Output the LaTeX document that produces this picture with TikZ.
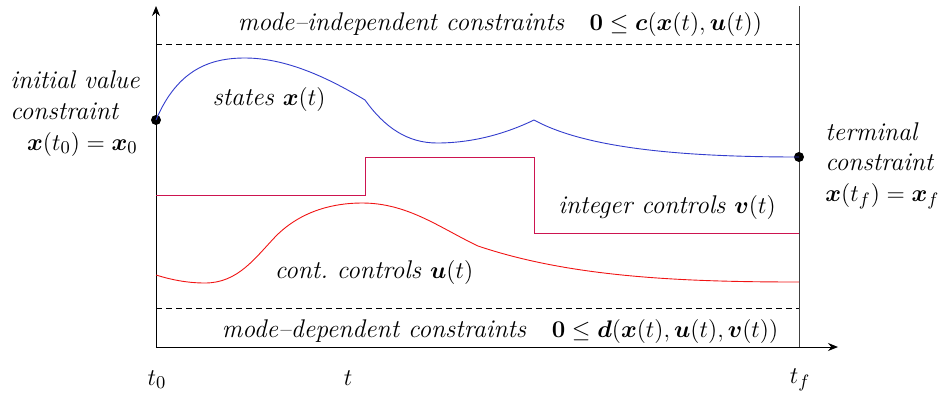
\documentclass[tikz,border=0pt]{standalone}
\usepackage{amsmath}
\usepackage{bm}
\usetikzlibrary{arrows.meta}
\definecolor{stateblue}{RGB}{50,60,205}
\definecolor{intred}{RGB}{205,20,80}
\definecolor{contred}{RGB}{240,20,20}
\tikzset{
  lbl/.style={inner sep=0pt, anchor=base west, font=\fontsize{12.8}{14}\selectfont\itshape},
  dotnode/.style={circle, fill=black, inner sep=0pt, minimum size=5pt},
  bound/.style={dashed, dash pattern=on 3pt off 2pt, line width=0.5pt},
  axisline/.style={line width=0.5pt, -{Stealth[length=5pt,width=4pt]}},
  curve/.style={line width=0.45pt},
}
\begin{document}
\begin{tikzpicture}[x=0.5pt, y=-0.5pt]
\useasboundingbox (0,0) rectangle (942,392);
% axes
\coordinate (O) at (156,347);
\coordinate (Ytop) at (156,6);
\coordinate (Xend) at (838,347);
\coordinate (Rtop) at (799,6);
\coordinate (Rbot) at (799,347);
\draw[axisline] (O) -- (Ytop);
\draw[axisline] (O) -- (Xend);
\draw[line width=0.5pt, black!75] (Rbot) -- (Rtop);
% dashed bounds
\coordinate (TL) at (156,44);
\coordinate (TR) at (799,44);
\coordinate (BL) at (156,308);
\coordinate (BR) at (799,308);
\draw[bound] (TL) -- (TR);
\draw[bound] (BL) -- (BR);
% dots
\node[dotnode] (x0) at (156,120) {};
\node[dotnode] (xf) at (799,157) {};
% states
\draw[curve, stateblue] (x0.center) .. controls (178,68) and (212,58) .. (245,58)
  .. controls (290,58) and (335,82) .. (365,100)
  .. controls (385,128) and (408,143) .. (437,143)
  .. controls (472,143) and (505,134) .. (534,120)
  .. controls (585,148) and (680,157) .. (xf.center);
% integer controls
\draw[curve, intred] (156,195) -- (365,195) -- (365,157) -- (534,157) -- (534,233) -- (799,233);
% continuous controls
\draw[curve, contred] (156,275) .. controls (172,280) and (188,283) .. (205,283)
  .. controls (238,283) and (255,258) .. (276,236)
  .. controls (302,210) and (335,203) .. (362,203)
  .. controls (408,203) and (440,228) .. (478,246)
  .. controls (570,277) and (680,282) .. (799,282);
% labels
\node[lbl, anchor=base] (indep) at (500,30) {mode--independent constraints\quad $\mathbf{0}\le \bm{c}(\bm{x}(t),\bm{u}(t))$};
\node[lbl, anchor=base] (states) at (269,105) {states $\bm{x}(t)$};
\node[lbl] (iv1) at (10,88) {initial value};
\node[lbl] (iv2) at (10,119) {constraint};
\node[lbl, anchor=base east] (iv3) at (138,150) {$\bm{x}(t_0)=\bm{x}_0$};
\node[lbl] (tc1) at (825,140) {terminal};
\node[lbl] (tc2) at (825,170) {constraint};
\node[lbl] (tc3) at (825,201) {$\bm{x}(t_f)=\bm{x}_f$};
\node[lbl, anchor=base] (intl) at (667,213) {integer controls $\bm{v}(t)$};
\node[lbl, anchor=base] (contl) at (374,278) {cont.\ controls $\bm{u}(t)$};
\node[lbl, anchor=base] (dep) at (500,337) {mode--dependent constraints\quad $\mathbf{0}\le \bm{d}(\bm{x}(t),\bm{u}(t),\bm{v}(t))$};
\node[lbl, anchor=base] (t0) at (157,385) {$t_0$};
\node[lbl, anchor=base] (tt) at (348,385) {$t$};
\node[lbl, anchor=base] (tf) at (800,383) {$t_f$};
\end{tikzpicture}
\end{document}
